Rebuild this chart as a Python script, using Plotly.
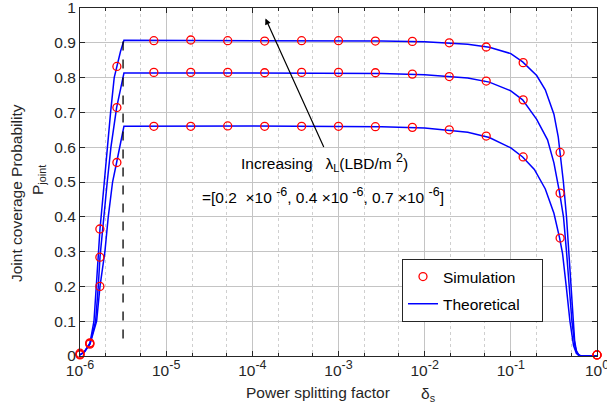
import plotly.graph_objects as go

# ---------------- data ----------------
# simulation points (same x for all three densities)
sim_x = [1e-6, 1.3e-6, 1.7e-6, 2.68e-6, 7.2e-6, 1.93e-5, 5.18e-5, 1.39e-4, 3.73e-4,
         1e-3, 2.68e-3, 7.2e-3, 1.93e-2, 5.18e-2, 0.139, 0.373, 1.0]
sim_high = [0.008, 0.038, 0.365, 0.832, 0.906, 0.908, 0.906, 0.905, 0.906,
            0.906, 0.905, 0.904, 0.900, 0.888, 0.843, 0.585, 0.003]
sim_mid = [0.005, 0.036, 0.284, 0.714, 0.815, 0.815, 0.815, 0.814, 0.815,
           0.815, 0.814, 0.810, 0.803, 0.790, 0.736, 0.468, 0.003]
sim_low = [0.003, 0.034, 0.200, 0.556, 0.660, 0.660, 0.661, 0.660, 0.660,
           0.660, 0.659, 0.657, 0.650, 0.632, 0.572, 0.339, 0.003]

# theoretical curves: log10(delta_s) sample positions and values
theo_high_lx = [-6, -5.95, -5.884, -5.838, -5.811, -5.768, -5.718, -5.684, -5.645, -5.603,
                -5.575, -5.53, -5.49, -4, -3, -2.5, -2, -1.5, -1.25, -1, -0.863, -0.7,
                -0.6, -0.5, -0.45, -0.43, -0.39, -0.354, -0.327, -0.303, -0.28, -0.26,
                -0.24, -0.21, -0.18, 0]
theo_high_y = [0.003, 0.012, 0.038, 0.10, 0.20, 0.365, 0.50, 0.60, 0.70, 0.80,
               0.832, 0.875, 0.907, 0.907, 0.906, 0.905, 0.903, 0.896, 0.887, 0.869, 0.845, 0.806,
               0.765, 0.695, 0.63, 0.59, 0.50, 0.40, 0.30, 0.20, 0.10, 0.045,
               0.015, 0.003, 0.0, 0.0]

theo_mid_lx = [-6, -5.95, -5.884, -5.819, -5.788, -5.768, -5.684, -5.641, -5.575, -5.53,
               -5.49, -4, -3, -2.5, -2, -1.5, -1.25, -1, -0.863, -0.7, -0.574, -0.5,
               -0.435, -0.389, -0.354, -0.322, -0.291, -0.257, -0.23, -0.2, -0.17, 0]
theo_mid_y = [0.003, 0.012, 0.036, 0.10, 0.20, 0.284, 0.50, 0.60, 0.714, 0.77,
              0.813, 0.813, 0.813, 0.812, 0.808, 0.799, 0.787, 0.762, 0.736, 0.68, 0.621, 0.555,
              0.47, 0.40, 0.30, 0.20, 0.10, 0.03, 0.008, 0.001, 0.0, 0.0]

theo_low_lx = [-6, -5.95, -5.884, -5.807, -5.768, -5.711, -5.672, -5.622, -5.575, -5.53,
               -5.49, -4, -3, -2.5, -2, -1.5, -1.25, -1, -0.863, -0.727, -0.6, -0.5,
               -0.435, -0.4, -0.357, -0.314, -0.272, -0.24, -0.21, -0.18, 0]
theo_low_y = [0.003, 0.011, 0.034, 0.10, 0.20, 0.30, 0.40, 0.50, 0.556, 0.61,
              0.66, 0.661, 0.66, 0.659, 0.655, 0.643, 0.628, 0.598, 0.572, 0.536, 0.48, 0.41,
              0.34, 0.295, 0.20, 0.10, 0.03, 0.008, 0.001, 0.0, 0.0]

# vertical dashed marker line
dash_x = [3.16e-6, 3.16e-6]
dash_y = [0.05, 0.907]

x_tickvals = [1e-6, 1e-5, 1e-4, 1e-3, 1e-2, 1e-1, 1]
x_exponents = ["-6", "-5", "-4", "-3", "-2", "-1", "0"]
y_tickvals = [0, 0.1, 0.2, 0.3, 0.4, 0.5, 0.6, 0.7, 0.8, 0.9, 1]
y_ticktext = ["0", "0.1", "0.2", "0.3", "0.4", "0.5", "0.6", "0.7", "0.8", "0.9", "1"]

FONT = "Liberation Sans, Arial, Helvetica, sans-serif"
FS = 15.5
TXT = "#262626"
BLUE = "#0000ff"
RED = "#ff0000"
NB = "\u00a0"


def sup(s):
    return "<sup><span style='font-size:12.5px'>" + s + "</span></sup>"


x_ticktext = ["10" + sup(e) for e in x_exponents]

fig = go.Figure()

# theoretical curves
for i, (lx, yy) in enumerate([(theo_high_lx, theo_high_y), (theo_mid_lx, theo_mid_y),
                              (theo_low_lx, theo_low_y)]):
    fig.add_trace(go.Scatter(
        x=[10 ** v for v in lx], y=yy, mode="lines",
        line=dict(color=BLUE, width=1.5),
        name="Theoretical" + NB * 4, legendgroup="theo", showlegend=(i == 0), legendrank=2))

fig.add_trace(go.Scatter(x=dash_x, y=dash_y, mode="lines",
                         line=dict(color="black", width=1.3, dash="dash"),
                         showlegend=False))

# simulation markers
for i, yy in enumerate([sim_high, sim_mid, sim_low]):
    fig.add_trace(go.Scatter(
        x=sim_x, y=yy, mode="markers",
        marker=dict(symbol="circle-open", size=8, color=RED, line=dict(width=1.3, color=RED)),
        name="Simulation", legendgroup="sim", showlegend=(i == 0), legendrank=1,
        cliponaxis=False))

axis_common = dict(
    showline=True, linecolor=TXT, linewidth=1, mirror="ticks",
    ticks="inside", ticklen=5, tickcolor=TXT, tickwidth=1,
    showgrid=True, gridcolor="#c4c4c4", gridwidth=1,
    zeroline=False, automargin=False, ticklabeloverflow="allow",
    tickfont=dict(family=FONT, size=FS, color=TXT),
)

fig.update_xaxes(
    type="log", range=[-6, 0], tickvals=x_tickvals, ticktext=x_ticktext,
    minor=dict(ticks="inside", ticklen=3, tickcolor=TXT, showgrid=True,
               gridcolor="#cfcfcf", griddash="dot", gridwidth=1),
    **axis_common)
fig.update_yaxes(range=[0, 1], tickvals=y_tickvals, ticktext=y_ticktext, **axis_common)

ann_font = dict(family=FONT, size=FS, color="black")
lab_font = dict(family=FONT, size=FS, color=TXT)
fig.update_layout(
    width=607, height=411,
    margin=dict(l=80, r=10, t=8, b=55),
    paper_bgcolor="white", plot_bgcolor="white",
    font=dict(family=FONT, size=FS, color=TXT),
    legend=dict(x=(402 - 80) / 517, y=(356 - 259) / 348, xanchor="left", yanchor="top",
                bgcolor="white", bordercolor=TXT, borderwidth=1,
                font=dict(family=FONT, size=FS, color="black"),
                tracegroupgap=4, itemwidth=30),
    annotations=[
        dict(xref="paper", yref="paper", x=(17 - 80) / 517, y=(356 - 193) / 348,
             text="Joint coverage Probability",
             textangle=-90, showarrow=False, font=lab_font,
             xanchor="center", yanchor="middle"),
        dict(xref="paper", yref="paper", x=(39 - 80) / 517, y=(356 - 180) / 348,
             text="P<sub>joint</sub>",
             textangle=-90, showarrow=False, font=lab_font,
             xanchor="center", yanchor="middle"),
        dict(xref="paper", yref="paper", x=(318 - 80) / 517, y=(356 - 392) / 348,
             text="Power splitting factor",
             showarrow=False, font=lab_font, xanchor="center", yanchor="middle"),
        dict(xref="paper", yref="paper", x=(428 - 80) / 517, y=(356 - 394) / 348,
             text="δ<sub>s</sub>",
             showarrow=False, font=lab_font, xanchor="center", yanchor="middle"),
        dict(xref="paper", yref="paper", x=(324.5 - 80) / 517, y=(356 - 162) / 348,
             text="Increasing" + NB * 3 + "λ<sub>L</sub>(LBD/m" + NB + sup("2") + ")",
             showarrow=False, font=ann_font, xanchor="center", yanchor="middle"),
        dict(xref="paper", yref="paper", x=(323 - 80) / 517, y=(356 - 195) / 348,
             text="=[0.2" + NB * 2 + "×10" + NB + sup("-6") + ", 0.4 ×10" + NB + sup("-6")
                  + ", 0.7 ×10" + NB + sup("-6") + "]",
             showarrow=False, font=ann_font, xanchor="center", yanchor="middle"),
        dict(xref="x", yref="y", x=-3.848, y=0.970, text="", showarrow=True,
             ax=59, ay=130, arrowhead=2, arrowsize=1, arrowwidth=1.2, arrowcolor="black",
             standoff=0, startstandoff=0),
    ],
)

fig.write_html("out.html", config={"displayModeBar": False},
               post_script="document.body.style.margin='0';document.body.style.padding='0';")
